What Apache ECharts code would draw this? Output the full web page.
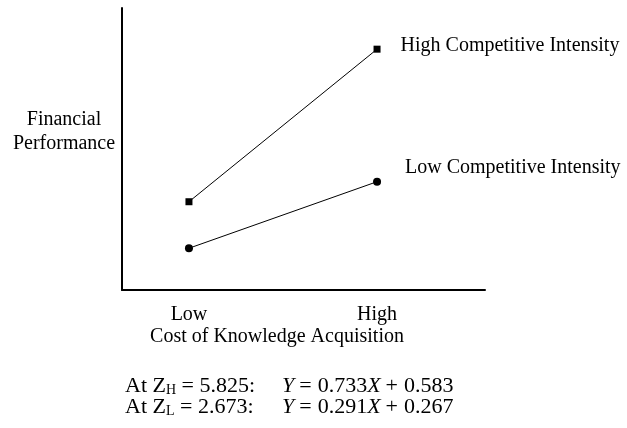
<!DOCTYPE html>
<html><head><meta charset="utf-8">
<script src="https://cdn.jsdelivr.net/npm/echarts@6/dist/echarts.min.js"></script>
<style>html,body{margin:0;padding:0;background:#fff}#c{width:627px;height:428px}</style>
</head><body><div id="c"></div>
<script>
// Data (y on an arbitrary 0-10 scale)
const xValues = [0, 1];
const xTickLabels = ['Low', 'High'];
const highIntensity = [3.13, 8.54];
const lowIntensity = [1.48, 3.84];
const seriesNames = ['High Competitive Intensity', 'Low Competitive Intensity'];
const yAxisTitle = ['Financial', 'Performance'];
const xAxisTitle = 'Cost of Knowledge Acquisition';
const eqLeft = [['At Z', 'H', ' = 5.825:'], ['At Z', 'L', ' = 2.673:']];
const eqRight = [['0.733', '0.583'], ['0.291', '0.267']];

const FONT = '"Liberation Serif", "Times New Roman", serif';
const chart = echarts.init(document.getElementById('c'));

function pts(vals) { return vals.map((v, i) => [xValues[i], v]); }
function eqLeftText(p) { return p[0] + '{s|' + p[1] + '}' + p[2]; }
function eqRightText(p) { return '{i|Y}{o|=}' + p[0] + '{i|X}{o|+}' + p[1]; }

const eqRich = {
  s: { fontSize: 14, fontFamily: FONT, verticalAlign: 'bottom', padding: [9, 0, 0, 0] },
  i: { fontStyle: 'italic', fontSize: 22, fontFamily: FONT },
  o: { fontSize: 22, fontFamily: FONT, padding: [0, 6, 0, 5] }
};

const option = {
  animation: false,
  grid: { left: 122, top: 8, width: 363, height: 282, containLabel: false },
  xAxis: {
    type: 'value', min: -0.356, max: 1.574,
    axisLine: { show: true, onZero: false, lineStyle: { color: '#000', width: 2 } },
    axisTick: { show: false },
    splitLine: { show: false },
    axisLabel: {
      customValues: xValues,
      formatter: v => xTickLabels[xValues.indexOf(v)] || '',
      color: '#000', fontFamily: FONT, fontSize: 20, margin: 15
    }
  },
  yAxis: {
    type: 'value', min: 0, max: 10,
    axisLine: { show: true, onZero: false, lineStyle: { color: '#000', width: 2 } },
    axisTick: { show: false }, axisLabel: { show: false }, splitLine: { show: false }
  },
  series: [
    {
      name: seriesNames[0], type: 'line', data: pts(highIntensity),
      symbol: 'rect', symbolSize: 7,
      lineStyle: { color: '#000', width: 1 }, itemStyle: { color: '#000' },
      label: {
        show: true, position: 'right', offset: [15, -3],
        formatter: p => p.dataIndex === xValues.length - 1 ? seriesNames[0] : '',
        color: '#000', fontFamily: FONT, fontSize: 20
      }
    },
    {
      name: seriesNames[1], type: 'line', data: pts(lowIntensity),
      symbol: 'circle', symbolSize: 8,
      lineStyle: { color: '#000', width: 1 }, itemStyle: { color: '#000' },
      label: {
        show: true, position: 'right', offset: [19, -14],
        formatter: p => p.dataIndex === xValues.length - 1 ? seriesNames[1] : '',
        color: '#000', fontFamily: FONT, fontSize: 20
      }
    }
  ],
  graphic: [
    { type: 'text', x: 64, y: 132,
      style: { text: yAxisTitle.join('\n'), fill: '#000', font: '20px ' + FONT,
               align: 'center', verticalAlign: 'middle', lineHeight: 24 } },
    { type: 'text', x: 277, y: 337,
      style: { text: xAxisTitle, fill: '#000', font: '20px ' + FONT,
               align: 'center', verticalAlign: 'middle' } },
    { type: 'text', x: 125, y: 386,
      style: { text: eqLeftText(eqLeft[0]), fill: '#000', font: '22px ' + FONT,
               verticalAlign: 'middle', rich: eqRich } },
    { type: 'text', x: 125, y: 407,
      style: { text: eqLeftText(eqLeft[1]), fill: '#000', font: '22px ' + FONT,
               verticalAlign: 'middle', rich: eqRich } },
    { type: 'text', x: 282, y: 386,
      style: { text: eqRightText(eqRight[0]), fill: '#000', font: '22px ' + FONT,
               verticalAlign: 'middle', rich: eqRich } },
    { type: 'text', x: 282, y: 407,
      style: { text: eqRightText(eqRight[1]), fill: '#000', font: '22px ' + FONT,
               verticalAlign: 'middle', rich: eqRich } }
  ]
};
chart.setOption(option);
</script>
</body></html>
